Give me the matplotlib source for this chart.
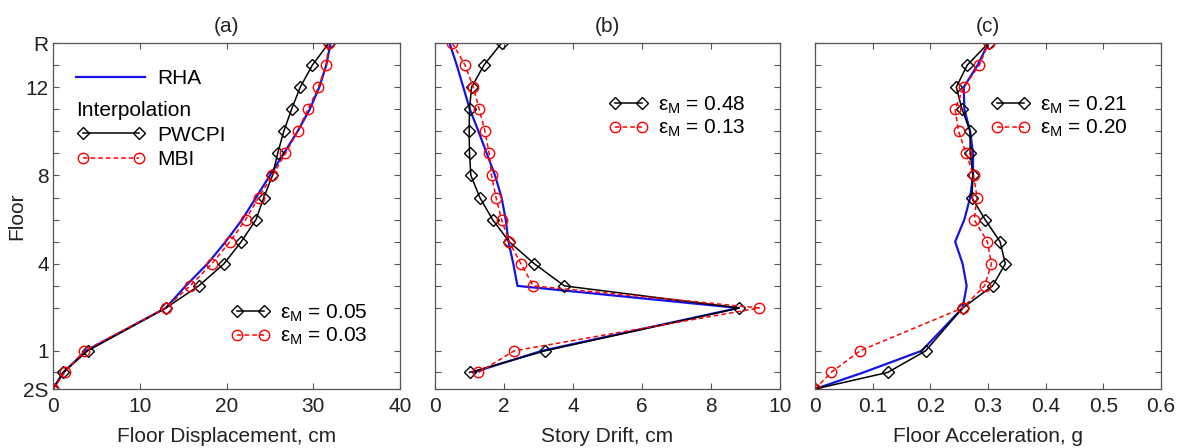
import matplotlib
matplotlib.use('Agg')
import matplotlib.pyplot as plt

plt.rcParams['font.family'] = ['Liberation Sans', 'DejaVu Sans']
plt.rcParams['mathtext.fontset'] = 'custom'
plt.rcParams['mathtext.rm'] = 'Liberation Sans'
plt.rcParams['mathtext.it'] = 'Liberation Sans'
plt.rcParams['font.size'] = 15

# floor levels and their elevations (in typical story heights)
levels = ['2S', '1S', '1', '2', '3', '4', '5', '6', '7', '8', '9', '10', '11', '12', '13', 'R']
elev = [0, 0.75, 1.73, 3.67, 4.67, 5.67, 6.67, 7.67, 8.67, 9.67, 10.67, 11.67, 12.67, 13.67, 14.67, 15.67]
shown = ['2S', '1', '4', '8', '12', 'R']

# (a) floor displacement, cm
disp_rha = [0, 1.2, 3.8, 13.0, 15.3, 17.8, 19.9, 21.8, 23.4, 25.0, 26.6, 28.2, 29.6, 30.7, 31.5, 32.0]
disp_pwcpi = [0, 1.15, 4.0, 13.0, 16.8, 19.7, 21.7, 23.4, 24.3, 25.3, 25.9, 26.6, 27.5, 28.5, 29.9, 31.8]
disp_mbi = [0, 1.35, 3.6, 13.0, 15.8, 18.3, 20.4, 22.2, 23.7, 25.3, 26.8, 28.2, 29.4, 30.6, 31.5, 31.8]

# (b) story drift, cm (levels 1S..R)
drift_rha = [1.1, 3.1, 8.8, 2.39, 2.27, 2.13, 2.05, 1.93, 1.74, 1.50, 1.26, 1.01, 0.82, 0.63, 0.42]
drift_pwcpi = [1.0, 3.19, 8.82, 3.75, 2.88, 2.15, 1.67, 1.30, 1.04, 1.0, 0.99, 1.0, 1.06, 1.42, 1.93]
drift_mbi = [1.26, 2.30, 9.40, 2.85, 2.49, 2.15, 1.93, 1.77, 1.64, 1.57, 1.45, 1.28, 1.11, 0.87, 0.50]

# (c) floor acceleration, g
acc_rha = [0, 0.084, 0.185, 0.256, 0.263, 0.256, 0.243, 0.259, 0.269, 0.274, 0.274, 0.269, 0.259, 0.258, 0.282, 0.301]
acc_pwcpi = [0, 0.126, 0.192, 0.256, 0.308, 0.330, 0.321, 0.295, 0.272, 0.274, 0.269, 0.269, 0.255, 0.245, 0.264, 0.301]
acc_mbi = [0, 0.028, 0.078, 0.256, 0.294, 0.306, 0.299, 0.276, 0.281, 0.275, 0.262, 0.249, 0.243, 0.258, 0.285, 0.301]

eps_a = ['0.05', '0.03']
eps_b = ['0.48', '0.13']
eps_c = ['0.21', '0.20']

blue = '#1414e6'
text_col = '#222222'

fig = plt.figure(figsize=(11.84, 4.48), dpi=100)
ax_a = fig.add_axes([53 / 1184, 1 - 389 / 448, 347 / 1184, 346 / 448])
ax_b = fig.add_axes([435 / 1184, 1 - 389 / 448, 345 / 1184, 346 / 448])
ax_c = fig.add_axes([815 / 1184, 1 - 389 / 448, 346 / 1184, 346 / 448])

pw_style = dict(color='black', lw=1.1, marker='D', ms=6, mfc='none', mec='black', mew=1.0)
mb_style = dict(color='red', lw=1.1, ls=(0, (3, 2)), marker='o', ms=7.5, mfc='none', mec='red', mew=1.0)


def draw(ax, rha, pw, mb, ylev, xmax, xticks, title, xlabel):
    l_rha, = ax.plot(rha, ylev, color=blue, lw=1.6, label='RHA')
    l_pw, = ax.plot(pw, ylev, **pw_style)
    l_mb, = ax.plot(mb, ylev, **mb_style)
    ax.set_xlim(0, xmax)
    ax.set_ylim(elev[0], elev[-1])
    ax.set_xticks(xticks)
    ax.set_yticks(elev)
    ax.set_title(title, fontsize=15, pad=8, color=text_col)
    ax.set_xlabel(xlabel, fontsize=15, color=text_col, labelpad=8)
    ax.tick_params(direction='in', top=True, right=True, length=4, width=0.8,
                   labelsize=15, colors='#555555', labelcolor=text_col)
    ax.tick_params(axis='x', pad=6)
    ax.tick_params(axis='y', pad=3)
    for s in ax.spines.values():
        s.set_color('#555555')
        s.set_linewidth(0.9)
    return l_rha, l_pw, l_mb


ra, pa, ma = draw(ax_a, disp_rha, disp_pwcpi, disp_mbi, elev, 40, [0, 10, 20, 30, 40],
                  '(a)', 'Floor Displacement, cm')
rb, pb, mb = draw(ax_b, drift_rha, drift_pwcpi, drift_mbi, elev[1:], 10, [0, 2, 4, 6, 8, 10],
                  '(b)', 'Story Drift, cm')
rc, pc, mc = draw(ax_c, acc_rha, acc_pwcpi, acc_mbi, elev, 0.6, [0, 0.1, 0.2, 0.3, 0.4, 0.5, 0.6],
                  '(c)', 'Floor Acceleration, g')

ax_a.set_yticklabels([lv if lv in shown else '' for lv in levels])
ax_a.set_ylabel('Floor', fontsize=15, color=text_col, labelpad=-2)
ax_b.set_yticklabels([])
ax_c.set_yticklabels([])
ax_c.set_xticklabels(['0', '0.1', '0.2', '0.3', '0.4', '0.5', '0.6'])

# main legend in (a)
leg1 = ax_a.legend([ra], ['RHA'], loc='center left', bbox_to_anchor=(66 / 1184, 1 - 79 / 448),
                   bbox_transform=fig.transFigure, frameon=False, borderpad=0,
                   handlelength=3.3, handletextpad=0.6, fontsize=15)
ax_a.add_artist(leg1)
leg2 = ax_a.legend([pa, ma], ['PWCPI', 'MBI'], title='Interpolation', alignment='left',
                   loc='upper left', bbox_to_anchor=(66 / 1184, 1 - 91 / 448),
                   bbox_transform=fig.transFigure, frameon=False, borderpad=0,
                   handlelength=3.3, handletextpad=0.6, fontsize=15, title_fontsize=15,
                   numpoints=2, labelspacing=0.25)
ax_a.add_artist(leg2)

# error legends
for ax, hs, eps, x0, yc in [(ax_a, [pa, ma], eps_a, 220, 325),
                            (ax_b, [pb, mb], eps_b, 598, 117),
                            (ax_c, [pc, mc], eps_c, 980, 117)]:
    labs = [r'$\varepsilon_{\mathrm{M}}$ = ' + e for e in eps]
    ax.legend(hs, labs, loc='center left', bbox_to_anchor=(x0 / 1184, 1 - yc / 448),
              bbox_transform=fig.transFigure, frameon=False, borderpad=0,
              handlelength=1.9, handletextpad=0.5, fontsize=15, numpoints=2,
              labelspacing=0.1)

fig.savefig('out.png', dpi=100)
